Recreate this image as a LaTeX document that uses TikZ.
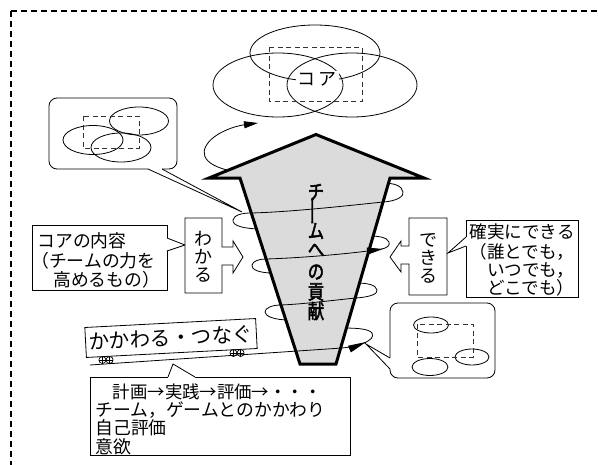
\documentclass[tikz,border=0pt]{standalone}
\usepackage{fontspec}
\newfontfamily\jpfont{Noto Sans CJK JP}
\newfontfamily\jpbold[FakeBold=2.5]{Noto Sans CJK JP}
\usetikzlibrary{arrows.meta}
\newcommand\fwarrow{\makebox[1em][c]{→}}
\begin{document}
\begin{tikzpicture}[x=1pt,y=-1pt,line width=0.8pt,
  txt/.style={font={\jpfont\fontsize{#1}{#1}\selectfont}, inner sep=0pt},
  dashbox/.style={draw=black!80, dash pattern=on 5pt off 3.5pt, line width=0.8pt},
  bigarrow/.style={draw=black, line width=3pt, fill=black!14, miter limit=10},
  spiraltip/.style={-{Triangle[length=#1,width=7pt]}},
  wheel/.style={line width=0.7pt}]
\useasboundingbox (0,0) rectangle (598,464);
\begin{scope}
  \clip (0,0) rectangle (598,464);
  \draw[line width=1.3pt, dash pattern=on 6pt off 4pt] (11,11) rectangle (640,500);
\end{scope}

% ---- core ellipses at the top
\draw (315,53) ellipse [x radius=65pt, y radius=28pt];
\draw (278,85) ellipse [x radius=65pt, y radius=32pt];
\draw (352,85) ellipse [x radius=65pt, y radius=32pt];
\draw[dashbox] (269,47) rectangle (362,101);
\node[txt=18, fill=white, inner xsep=2pt, inner ysep=1pt] (core) at (317,79) {コ\hspace{3pt}ア};

% ---- top-left callout
\draw[rounded corners=8pt] (49,98) rectangle (177,169);
\fill[white] (148,166) -- (162,166) -- (162,169.6) -- (242,212) -- (148,169.6) -- cycle;
\draw (148,169) -- (242,212) -- (162,169);
\draw (139,121) ellipse [x radius=29.5pt, y radius=14pt];
\draw (93,140) ellipse [x radius=30pt, y radius=14.5pt];
\draw (121,147.5) ellipse [x radius=30pt, y radius=14.5pt];
\draw[dashbox] (83,116) rectangle (139,148);

% ---- left text box
\draw (32,225) rectangle (167,290);
\fill[white] (164,238) -- (167,238) -- (185,245) -- (167,251) -- (164,251) -- cycle;
\draw (167,238) -- (185,245) -- (167,251);
\node[txt=17.8, anchor=west] (core1) at (37,241) {コアの内容};
\node[txt=17.8, anchor=west] (core2) at (31,261) {（チームの力を};
\node[txt=17.8, anchor=west] (core3) at (53,280) {高めるもの）};

% ---- wakaru
\draw[fill=white] (185,218) -- (222,218) -- (222,247) -- (233,247) -- (233,241) -- (243,257)
  -- (233,273) -- (233,265) -- (222,265) -- (222,293) -- (185,293) -- cycle;
\node[txt=18, align=center] (wakaru) at (203.5,257) {わ\\か\\る};

% ---- dekiru
\draw[fill=white] (447,218) -- (409,218) -- (409,246) -- (401,246) -- (401,241) -- (390,257)
  -- (401,272) -- (401,264) -- (409,264) -- (409,295) -- (447,295) -- cycle;
\node[txt=18, align=center] (dekiru) at (428,258) {で\\き\\る};

% ---- right text box
\draw (466,220) rectangle (578,297);
\fill[white] (469,237) -- (466,237) -- (448,253) -- (466,246) -- (469,246) -- cycle;
\draw (466,237) -- (448,253) -- (466,246);
\node[txt=17.6, anchor=west] (r1) at (469,232) {確実にできる};
\node[txt=17.6, anchor=west] (r2) at (469,252) {（誰とでも，};
\node[txt=17.6, anchor=west] (r3) at (469,270) {\hspace*{1em}いつでも，};
\node[txt=17.6, anchor=west] (r4) at (469,288) {\hspace*{1em}どこでも）};

% ---- bottom-right callout
\draw[rounded corners=8pt] (390,303) rectangle (495,378);
\fill[white] (393,358) -- (390,358) -- (366,344) -- (390,369) -- (393,369) -- cycle;
\draw (390,358) -- (366,344) -- (390,369);
\draw (431,325) ellipse [x radius=17.5pt, y radius=8pt];
\draw (472,357) ellipse [x radius=17pt, y radius=8pt];
\draw (430,367) ellipse [x radius=18pt, y radius=8.5pt];
\draw[dashbox] (417,324) rectangle (473,357);

% ---- bottom text box
\draw (90,377) rectangle (350,455);
\fill[white] (168,380) -- (168,377) -- (173,364) -- (195,377) -- (195,380) -- cycle;
\draw (168,377) -- (173,364) -- (195,377);
\node[txt=17.4, anchor=west] (b1) at (95,392) {\hspace*{1em}計画\fwarrow 実践\fwarrow 評価\fwarrow ・・・};
\node[txt=17.8, anchor=west] (b2) at (95,410) {チーム，ゲームとのかかわり};
\node[txt=17.8, anchor=west] (b3) at (95,428) {自己評価};
\node[txt=17.8, anchor=west] (b4) at (95,447) {意欲};

% ---- banner (wagon)
\node[draw, txt=20.5, rotate=3, minimum width=171pt, minimum height=30pt, fill=white] (banner) at (171,338) {かかわる・つなぐ};
\foreach \wx/\wy in {106/360, 237/353} {
  \draw[wheel] (\wx-3.6,\wy) circle[radius=3.5pt] (\wx+3.6,\wy) circle[radius=3.5pt];
  \draw[wheel] (\wx-7.1,\wy) -- (\wx+7.1,\wy) (\wx-3.6,\wy-3.5) -- (\wx-3.6,\wy+3.5) (\wx+3.6,\wy-3.5) -- (\wx+3.6,\wy+3.5);
}

% ---- spiral, back parts
\draw[spiraltip=14pt] (262,174) .. controls (215,173) and (198,160) .. (206,146) .. controls (213,133) and (235,126) .. (258,123);
\draw (383,202) .. controls (398,201) and (404,196) .. (403,192) .. controls (402,186) and (395,183) .. (382,183);
\draw (262,229) .. controls (245,229) and (232,226) .. (233,220) .. controls (234,215) and (242,213) .. (251,213);
\draw (381,249) .. controls (388,248) and (390,245) .. (389,242) .. controls (387,237) and (378,236) .. (368,236);
\draw (273,273) .. controls (258,273) and (251,269) .. (252,265) .. controls (253,261) and (259,259) .. (266,259);
\draw (356,298) .. controls (370,297) and (378,294) .. (377,290) .. controls (376,285) and (368,283) .. (356,283);
\draw (289,320) .. controls (274,320) and (265,316) .. (265,312) .. controls (265,308) and (272,305) .. (281,305);
\draw (364,343) .. controls (371,340) and (374,337) .. (372,333) .. controls (369,329) and (358,328) .. (343,328);

% ---- big arrow
\draw[bigarrow] (316,134.5) -- (424,178) -- (390,178) -- (336,364) -- (300,364) -- (240,178) -- (209,178) -- cycle;
\foreach \ch/\xx/\yy [count=\i] in {チ/316/192, {\rotatebox{90}{\scalebox{1.5}[1]{ー}}}/315/211, ム/316/231, へ/316/250, の/316/272, 貢/316/292, 献/316/311}
  \node[font={\jpbold\fontsize{20}{20}\selectfont}, inner sep=0pt] (title\i) at (\xx,\yy) {\scalebox{0.82}[1]{\ch}};

% ---- spiral, front parts
\draw (251,213) .. controls (290,212) and (345,206) .. (383,202);
\draw[spiraltip=16pt] (266,259) .. controls (300,258) and (345,254) .. (383,249);
\draw (281,305) .. controls (305,304) and (335,300) .. (356,298);
\draw[spiraltip=18pt] (90,365) -- (342,348) .. controls (352,347) and (359,345) .. (366,342);
\end{tikzpicture}
\end{document}
